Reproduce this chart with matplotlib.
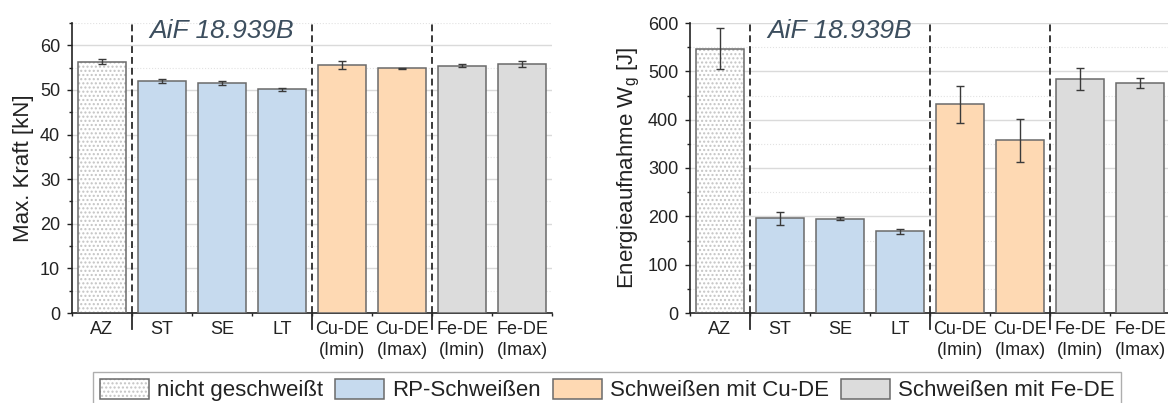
"""
Two bar charts: max. force and energy absorption per welding variant (AiF 18.939B).
Outputs: out.png
"""

import matplotlib

matplotlib.use("Agg")
import matplotlib.pyplot as plt
from matplotlib.patches import Patch
from matplotlib.ticker import MultipleLocator, FixedLocator
from matplotlib.transforms import blended_transform_factory

plt.rcParams["font.family"] = ["Liberation Sans", "DejaVu Sans"]
plt.rcParams["mathtext.default"] = "regular"
plt.rcParams["hatch.linewidth"] = 1.0

labels = ["AZ", "ST", "SE", "LT", "Cu-DE\n(Imin)", "Cu-DE\n(Imax)", "Fe-DE\n(Imin)", "Fe-DE\n(Imax)"]
groups = ["az", "rp", "rp", "rp", "cu", "cu", "fe", "fe"]
kraft = [56.3, 52.0, 51.6, 50.1, 55.6, 54.9, 55.4, 55.8]
kraft_err = [0.6, 0.5, 0.4, 0.3, 0.8, 0.1, 0.3, 0.7]
energie = [547, 196, 195, 169, 432, 357, 484, 476]
energie_err = [42, 14, 3, 5, 38, 44, 22, 11]
separators = [0.5, 3.5, 5.5]
legend_labels = ["nicht geschweißt", "RP-Schweißen", "Schweißen mit Cu-DE", "Schweißen mit Fe-DE"]

fill = {"az": "white", "rp": "#c6daee", "cu": "#fed9b3", "fe": "#dcdcdc"}
EDGE = "#6a6a6a"
DOTS = "#c4c4c4"
TXT = "#222222"


def draw(ax, values, errs, ymax, major, minor, ylabel):
    x = list(range(len(values)))
    ax.set_axisbelow(True)
    ax.grid(axis="y", which="major", color="#dadada", lw=1.0)
    ax.grid(axis="y", which="minor", color="#e2e2e2", lw=0.8, ls=":")
    for xi, v, g in zip(x, values, groups):
        if g == "az":
            ax.bar(xi, v, 0.8, color="white", edgecolor=DOTS, hatch="....", lw=0, zorder=2)
            ax.bar(xi, v, 0.8, color="none", edgecolor=EDGE, lw=1.1, zorder=3)
        else:
            ax.bar(xi, v, 0.8, color=fill[g], edgecolor=EDGE, lw=1.1, zorder=3)
    ax.errorbar(x, values, yerr=errs, fmt="none", ecolor="#3a3a3a",
                elinewidth=1.0, capsize=3, capthick=1.0, zorder=4)

    trans = blended_transform_factory(ax.transData, ax.transAxes)
    for s in separators:
        ax.plot([s, s], [0, 1], transform=trans, color="#2a2a2a", lw=1.3,
                dashes=(3.8, 2.2), zorder=5, clip_on=False)
        ax.plot([s, s], [0, -0.055], transform=trans, color="#2a2a2a", lw=1.3,
                zorder=5, clip_on=False)

    ax.text(2.0, 0.972, "AiF 18.939B", transform=trans, ha="center", va="center",
            fontsize=19, style="italic", color="#3c4e5e")

    ax.set_xlim(-0.5, len(values) - 0.5)
    ax.set_ylim(0, ymax)
    ax.set_xticks(x)
    ax.set_xticklabels(labels, linespacing=1.3)
    ax.xaxis.set_minor_locator(FixedLocator([i - 0.5 for i in range(len(values) + 1)]))
    ax.yaxis.set_major_locator(MultipleLocator(major))
    ax.yaxis.set_minor_locator(MultipleLocator(minor))
    ax.tick_params(axis="x", which="major", length=0, pad=6, labelsize=13, colors=TXT)
    ax.tick_params(axis="x", which="minor", length=2.5, width=1.0, color=TXT)
    ax.tick_params(axis="y", which="major", length=3.5, width=1.0, pad=5, labelsize=13, colors=TXT)
    ax.tick_params(axis="y", which="minor", length=2, width=1.0, color=TXT)
    for side in ("top", "right"):
        ax.spines[side].set_visible(False)
    for side in ("left", "bottom"):
        ax.spines[side].set_color(TXT)
        ax.spines[side].set_linewidth(1.2)
    ax.set_ylabel(ylabel, fontsize=16, color=TXT, labelpad=4)


fig = plt.figure(figsize=(11.68, 4.03), dpi=100)
W, H = 1168, 403
ax1 = fig.add_axes([72 / W, (H - 313) / H, 480 / W, 290 / H])
ax2 = fig.add_axes([690 / W, (H - 313) / H, 480 / W, 290 / H])

draw(ax1, kraft, kraft_err, 65, 10, 5, "Max. Kraft [kN]")
draw(ax2, energie, energie_err, 600, 100, 50, "Energieaufnahme W$_g$ [J]")

handles = [
    (Patch(facecolor="white", edgecolor=DOTS, hatch="....", lw=0),
     Patch(facecolor="none", edgecolor=EDGE, lw=1.1)),
    Patch(facecolor=fill["rp"], edgecolor=EDGE, lw=1.1),
    Patch(facecolor=fill["cu"], edgecolor=EDGE, lw=1.1),
    Patch(facecolor=fill["fe"], edgecolor=EDGE, lw=1.1),
]
leg = fig.legend(handles, legend_labels, loc="upper center", ncol=4,
                 bbox_to_anchor=(607 / W, 1 - 372 / H), fontsize=16,
                 frameon=True, fancybox=False, edgecolor="#9a9a9a",
                 handlelength=2.2, handleheight=1.0, handletextpad=0.36,
                 columnspacing=0.55, borderpad=0.3, borderaxespad=0)
leg.get_frame().set_linewidth(1.0)
for t in leg.get_texts():
    t.set_color(TXT)

fig.savefig("out.png", dpi=100)
